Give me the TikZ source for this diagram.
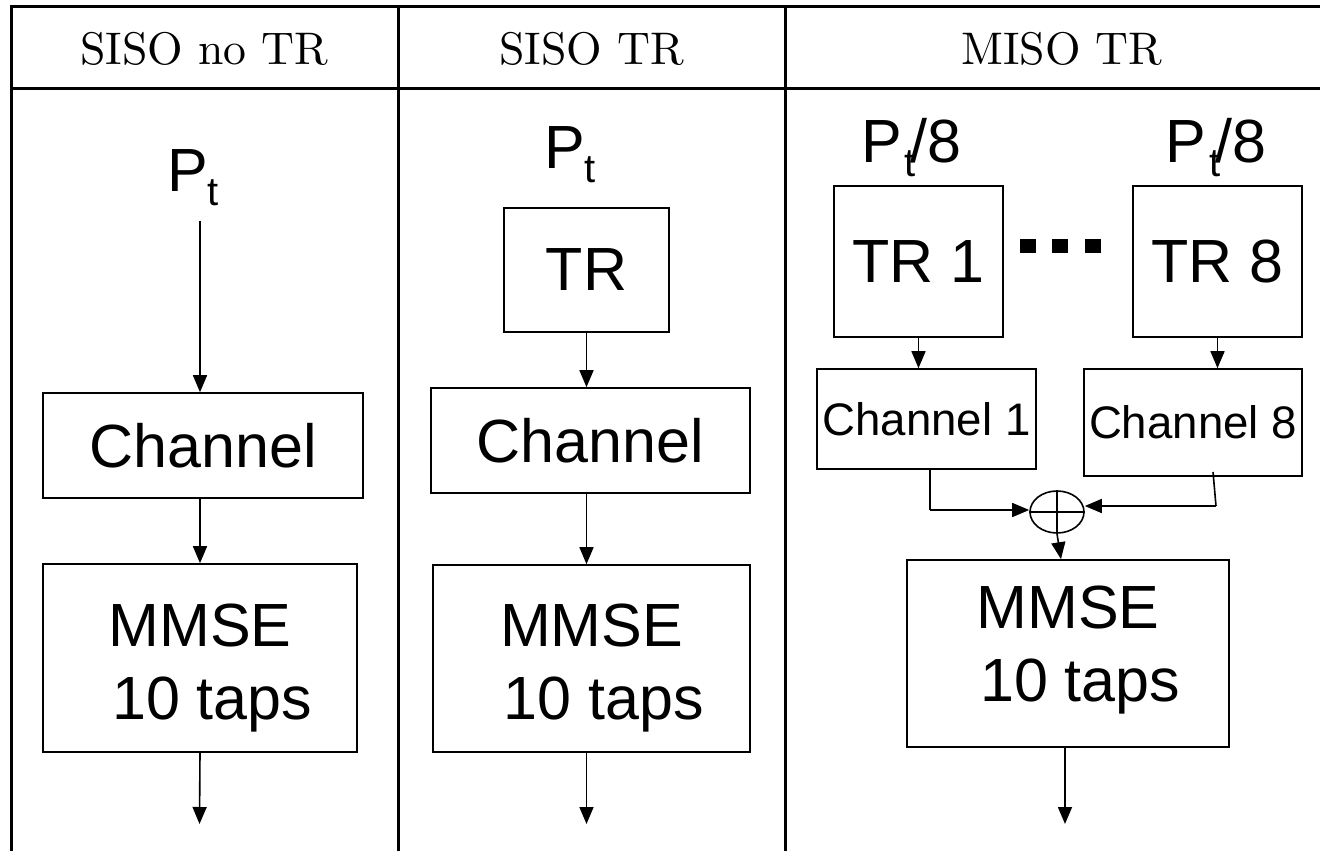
\documentclass[tikz,border=0pt]{standalone}
\usepackage{fontspec}
\newfontfamily\arial{Liberation Sans}
\newfontfamily\headfont{lmroman10-regular.otf}
\usetikzlibrary{arrows.meta,shapes.geometric,calc}
% lowered subscript for the power labels
\newcommand\lowsub[1]{\raisebox{-14pt}{\fontsize{40}{40}\selectfont #1}}
% two-line equaliser label
\newcommand\mmsetext{\rule{0pt}{62pt}MMSE\\\hspace*{0.4em}10 taps}
\newcommand\mmsetexthi{MMSE\\\hspace*{0.4em}10 taps\rule[-20pt]{0pt}{0pt}}
\begin{document}
\begin{tikzpicture}[x=1pt,y=-1pt,
  rule/.style={line width=3pt},
  blk/.style={draw, line width=1.6pt, inner sep=0pt, align=center},
  big/.style={font=\arial\fontsize{61}{73}\selectfont},
  mid/.style={font=\arial\fontsize{45.6}{50}\selectfont},
  lbl/.style={font=\arial\fontsize{61}{70}\selectfont, inner sep=0pt, anchor=base},
  head/.style={font=\headfont\fontsize{45.7}{50}\selectfont, anchor=base, inner sep=0pt},
  arr/.style={line width=1.6pt, -{Triangle[length=17pt,width=14pt]}},
  wire/.style={line width=1.6pt},
  dotsq/.style={fill, minimum width=16pt, minimum height=14pt, inner sep=0pt},
  sumnode/.style={draw, ellipse, line width=1.6pt, minimum width=54pt, minimum height=42pt, inner sep=0pt}
]
\useasboundingbox (0,0) rectangle (1320,851);

% table rules
\draw[rule] (1320,7) -- (11,7) -- (11,851);
\draw[rule] (11,88) -- (1320,88);
\draw[rule] (398,7) -- (398,851);
\draw[rule] (785,7) -- (785,851);

% column headings
\node[head] (h1) at (204.5,64) {SISO no TR};
\node[head] (h2) at (591.5,64) {SISO TR};
\node[head] (h3) at (1062,64) {MISO TR};

% ---- SISO no TR ----
\node[lbl] (pt1) at (193,191) {P\lowsub{t}};
\node[blk,big,minimum width=320pt,minimum height=105pt] (ch1) at (203,445.5) {Channel};
\node[blk,big,minimum width=314pt,minimum height=188pt] (mm1) at (200,658) {\mmsetext};
\coordinate (s1) at ([yshift=-15pt]pt1.south);
\coordinate (o1) at (199.5,824);
\draw[arr] (s1 -| mm1.north) -- (mm1.north |- ch1.north);
\draw[arr] (mm1.north |- ch1.south) -- (mm1.north);
\draw[arr] (mm1.south) -- (o1);

% ---- SISO TR ----
\node[lbl] (pt2) at (570,168) {P\lowsub{t}};
\node[blk,big,minimum width=165pt,minimum height=124pt] (tr) at (586.5,270) {TR};
\node[blk,big,minimum width=319pt,minimum height=105pt] (ch2) at (590.5,440.5) {Channel};
\node[blk,big,minimum width=317pt,minimum height=187pt] (mm2) at (591.5,658.5) {\mmsetext};
\coordinate (o2) at (586.5,824);
\draw[arr] (tr.south) -- (tr.south |- ch2.north);
\draw[arr] (tr.south |- ch2.south) -- (tr.south |- mm2.north);
\draw[arr] (tr.south |- mm2.south) -- (o2);

% ---- MISO TR ----
\node[lbl] (p31) at (911.5,162) {P\kern3pt\lowsub{t}\kern-5pt/8};
\node[lbl] (p38) at (1216,162) {P\kern3pt\lowsub{t}\kern-5pt/8};
\node[blk,big,minimum width=169pt,minimum height=151pt] (tr1) at (918.5,261.5) {TR 1};
\node[blk,big,minimum width=169pt,minimum height=151pt] (tr8) at (1217.5,261.5) {TR 8};
\node[dotsq] (d1) at (1028,246) {};
\node[dotsq] (d2) at (1060,246) {};
\node[dotsq] (d3) at (1093,246) {};
\node[blk,mid,minimum width=219pt,minimum height=100pt] (ch31) at (926.5,419) {Channel 1};
\node[blk,mid,minimum width=218pt,minimum height=107pt] (ch38) at (1193,422.5) {Channel 8};
\node[sumnode] (sum) at (1057,512) {};
\draw[wire] (sum.west) -- (sum.east);
\draw[wire] (sum.north) -- (sum.south);
\node[blk,big,minimum width=322pt,minimum height=187pt] (mm3) at (1068,653.5) {\mmsetexthi};

\draw[arr] (tr1.south) -- (tr1.south |- ch31.north);
\draw[arr] (tr8.south) -- (tr8.south |- ch38.north);

\coordinate (j1) at (930,510);
\coordinate (k8) at (1213,472);
\coordinate (j8) at (1216,506);
\draw[wire] (ch31.south -| j1) -- (j1);
\draw[arr] (j1) -- (j1 -| sum.west);
\draw[wire] (k8) -- (j8);
\draw[arr] (j8) -- (j8 -| sum.east);
\draw[arr] (sum.south) -- ($(sum.south |- mm3.north)+(4,0)$);

\coordinate (o3) at (1065,824);
\draw[arr] (mm3.south -| o3) -- (o3);
\end{tikzpicture}
\end{document}
